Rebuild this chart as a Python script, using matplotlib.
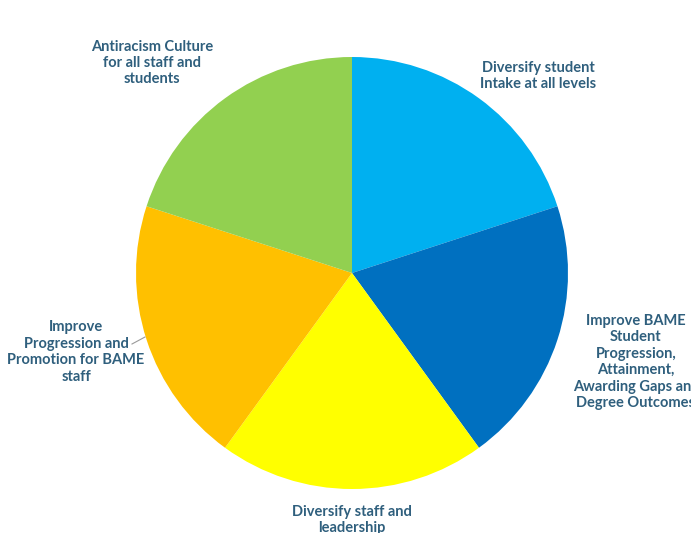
import matplotlib
matplotlib.use("Agg")
import matplotlib.pyplot as plt

# parts of the plan (equal weight)
categories = [
    "Diversify student\nIntake at all levels",
    "Improve BAME\nStudent\nProgression,\nAttainment,\nAwarding Gaps and\nDegree Outcomes",
    "Diversify staff and\nleadership",
    "Improve\nProgression and\nPromotion for BAME\nstaff",
    "Antiracism Culture\nfor all staff and\nstudents",
]
values = [1, 1, 1, 1, 1]
colors = ["#00B0F0", "#0070C0", "#FFFF00", "#FFC000", "#92D050"]

# label centres in pixels (x, y from top)
label_pos = [(538, 76), (636, 362), (352, 520), (76, 352), (152, 63)]

W, H = 691, 533
fig = plt.figure(figsize=(W / 100, H / 100), dpi=100)
ax = fig.add_axes([0, 0, 1, 1])

ax.pie(values, colors=colors, startangle=90, counterclock=False,
       center=(352, H - 273), radius=216, frame=True)
ax.set_xlim(0, W)
ax.set_ylim(0, H)
ax.set_aspect("equal")
ax.axis("off")

for lab, (x, y) in zip(categories, label_pos):
    ax.text(x, H - y, lab, ha="center", va="center", fontsize=10.5,
            fontweight="bold", family="Lato", color="#2F5F7D",
            linespacing=1.22)

# small leader line for the left label
ax.plot([132, 145], [H - 344, H - 337], color="#9A9A9A", lw=0.8)

fig.savefig("out.png", dpi=100)
